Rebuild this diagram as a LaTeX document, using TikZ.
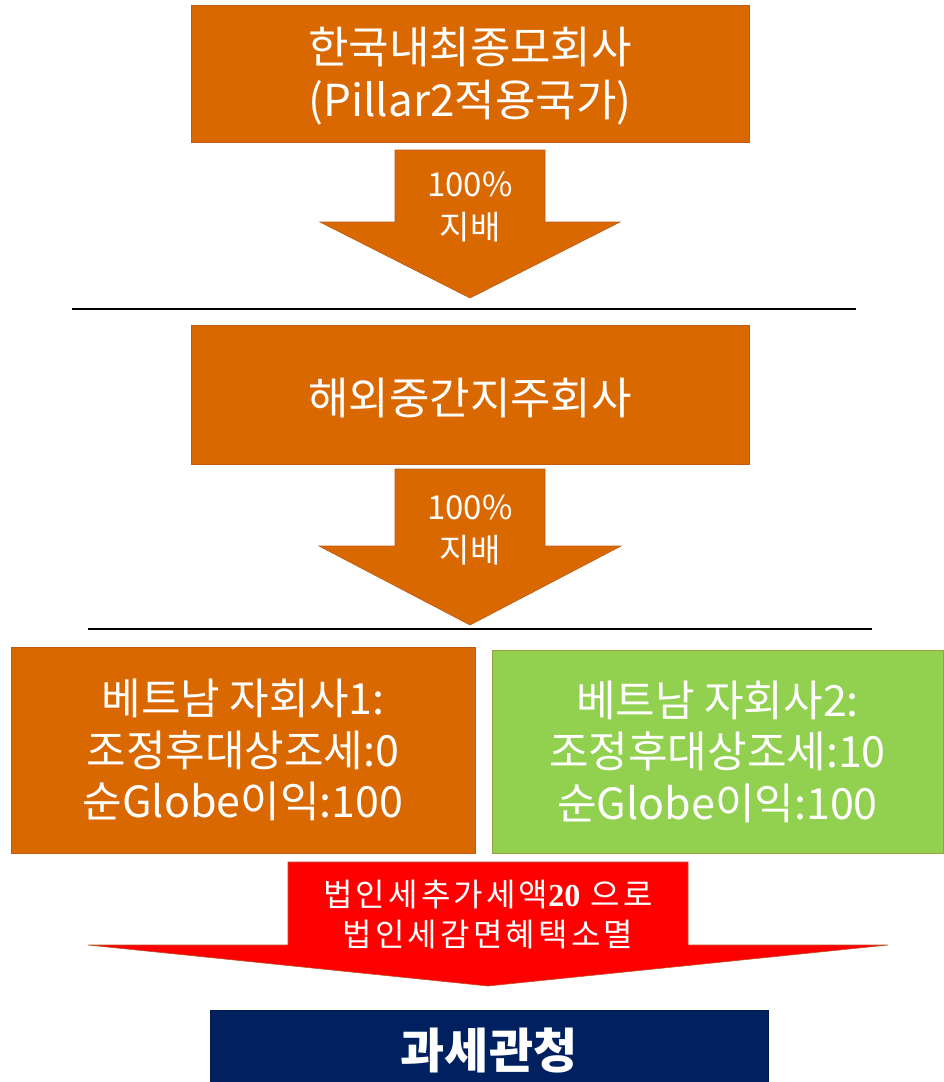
\documentclass[tikz,border=0pt]{standalone}
\usepackage{fontspec}
\setmainfont{Noto Sans CJK KR}
\newfontfamily\numserif{Liberation Serif}
\definecolor{orng}{RGB}{218,104,0}
\definecolor{orngline}{RGB}{190,90,20}
\definecolor{grn}{RGB}{146,208,80}
\definecolor{grnline}{RGB}{150,160,60}
\definecolor{navy}{RGB}{0,32,96}
\definecolor{redline}{RGB}{190,80,40}
\tikzset{
  obox/.style={draw=orngline, line width=0.8pt, fill=orng, text=white, align=center, inner sep=0pt},
  gbox/.style={draw=grnline, line width=0.8pt, fill=grn, text=white, align=center, inner sep=0pt},
  nbox/.style={draw=navy!80!black, line width=0.8pt, fill=navy, text=white, align=center, inner sep=0pt},
  arrowshape/.style={draw=orngline, line width=0.6pt, fill=orng},
  redarrow/.style={draw=redline, line width=0.6pt, fill=red},
  lbl/.style={text=white, align=center, inner sep=0pt},
  sep/.style={draw=black, line width=1.6pt},
  bigtxt/.style={font=\fontsize{44}{53}\selectfont},
  midtxt/.style={font=\fontsize{33}{43}\selectfont},
  boxtxt/.style={font=\fontsize{43}{51.5}\selectfont},
  redtxt/.style={font=\fontsize{32}{40}\selectfont\addfontfeature{LetterSpace=10}},
}
\begin{document}
\begin{tikzpicture}[x=1pt,y=-1pt]
\useasboundingbox (0,0) rectangle (944,1082);

% top box
\node[obox, minimum width=558pt, minimum height=137pt] (top) at (470,73.5) {};
\node[lbl, bigtxt] (toptxt) at (470,76.5) {한국내최종모회사\\(Pillar2적용국가)};

% arrow 1
\path[arrowshape] (395,150) -- (545,150) -- (545,222) -- (620,222) -- (470,298) -- (320,222) -- (395,222) -- cycle;
\node[lbl, midtxt] (a1) at (470,207) {100\%\\지배};

% separator 1
\coordinate (s1l) at (72,309);
\coordinate (s1r) at (856,309);
\draw[sep] (s1l) -- (s1r);

% middle box
\node[obox, minimum width=558pt, minimum height=139pt] (mid) at (470,394.5) {};
\node[lbl, bigtxt] (midtxt) at (470,398) {해외중간지주회사};

% arrow 2
\path[arrowshape] (395,469) -- (545,469) -- (545,546) -- (621,546) -- (470,625) -- (319,546) -- (395,546) -- cycle;
\node[lbl, midtxt] (a2) at (470,530) {100\%\\지배};

% separator 2
\coordinate (s2l) at (88,629);
\coordinate (s2r) at (872,629);
\draw[sep] (s2l) -- (s2r);

% subsidiaries
\node[obox, boxtxt, minimum width=464pt, minimum height=206pt] (sub1) at (243,750)
  {베트남 자회사1:\\조정후대상조세:0\\순Globe이익:100};
\node[gbox, boxtxt, minimum width=451pt, minimum height=203pt] (sub2) at (717.5,751.5)
  {베트남 자회사2:\\조정후대상조세:10\\순Globe이익:100};

% red arrow
\path[redarrow] (288,862) -- (688,862) -- (688,945) -- (888,945) -- (488,986) -- (88,945) -- (288,945) -- cycle;
\node[lbl, redtxt] (ra) at (488,915) {법인세추가세액{\numserif\bfseries 20} 으로\\법인세감면혜택소멸};

% tax authority
\node[nbox, minimum width=558pt, minimum height=80pt, font=\fontsize{48}{56}\selectfont\bfseries] (tax) at (489,1050) {과세관청};
\end{tikzpicture}
\end{document}
